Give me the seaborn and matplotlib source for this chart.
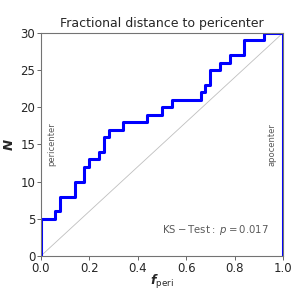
import numpy as np
import pandas as pd
import matplotlib
matplotlib.use('Agg')
import matplotlib.pyplot as plt
import seaborn as sns

# fractional distance to pericenter of each object (read from the cumulative steps)
f_peri = [0.01, 0.01, 0.01, 0.01, 0.01,
          0.07, 0.09, 0.09, 0.15, 0.15,
          0.19, 0.19, 0.21, 0.25, 0.27,
          0.27, 0.29, 0.35, 0.45, 0.51,
          0.55, 0.67, 0.69, 0.71, 0.71,
          0.75, 0.79, 0.85, 0.85, 0.93]
n_bins = 50
ks_p = 0.017

df = pd.DataFrame({'f_peri': f_peri})

sns.set_style('ticks')
fig = plt.figure(figsize=(2.91, 2.91), dpi=100)
ax = fig.add_axes([0.14, 0.12, 0.8325, 0.767])

sns.histplot(data=df, x='f_peri', bins=n_bins, binrange=(0, 1), cumulative=True,
             element='step', fill=False, color='blue', linewidth=2.2, ax=ax)

# close the outline at both ends like a step histogram
counts, edges = np.histogram(f_peri, bins=n_bins, range=(0, 1))
cum = np.cumsum(counts)
ax.vlines([edges[0], edges[-1]], 0, [cum[0], cum[-1]], color='blue', lw=2.2)

# uniform expectation
ax.plot([0, 1], [0, len(f_peri)], color='0.75', lw=0.6, zorder=0)

ax.set_xlim(0, 1)
ax.set_ylim(0, 30)
ax.set_xticks([0, 0.2, 0.4, 0.6, 0.8, 1.0])
ax.set_yticks([0, 5, 10, 15, 20, 25, 30])
ax.tick_params(labelsize=8.5, length=3, width=0.6, color='0.3', pad=1)
for s in ax.spines.values():
    s.set_visible(True)
    s.set_color('0.45')
    s.set_linewidth(0.8)

ax.set_title('Fractional distance to pericenter', fontsize=9, pad=4)
ax.set_xlabel(r'$\mathbfit{f}_{\rm peri}$', fontsize=9, labelpad=-1)
ax.set_ylabel(r'$\mathbfit{N}$', fontsize=9.5, labelpad=3)

ax.text(0.047, 15, 'pericenter', rotation=90, ha='center', va='center',
        fontsize=6, color='0.35')
ax.text(0.954, 15, 'apocenter', rotation=90, ha='center', va='center',
        fontsize=6, color='0.35')
ax.text(0.5, 3.5, r'$\rm KS-Test:\ $' + r'$p = %.3f$' % ks_p, ha='left', va='center',
        fontsize=7.3, color='0.35')

fig.savefig('out.png', dpi=100)
